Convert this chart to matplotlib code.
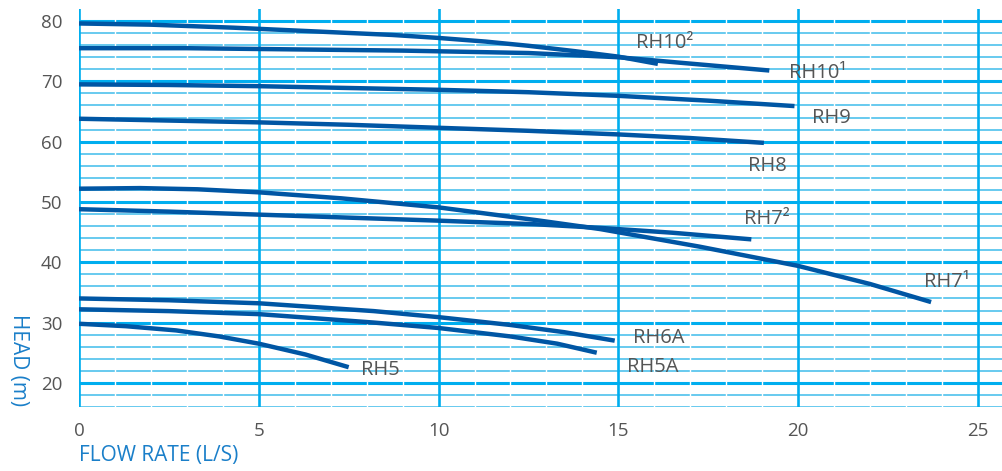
import numpy as np
import matplotlib.pyplot as plt

plt.rcParams['font.family'] = ['Open Sans', 'DejaVu Sans']

# pump curves: flow rate (L/s) vs head (m)
rh10_2_q = [0, 2, 4.3, 6.5, 8.7, 10, 11.3, 12.5, 13.8, 15, 16.1]
rh10_2_h = [79.6, 79.4, 78.9, 78.3, 77.7, 77.2, 76.6, 75.9, 75.0, 74.1, 72.9]
rh10_1_q = [0, 3, 6, 9, 12.5, 15, 16.7, 19.2]
rh10_1_h = [75.5, 75.5, 75.3, 75.1, 74.7, 74.0, 73.1, 71.8]
rh9_q = [0, 2.5, 5, 7.5, 10, 12.5, 15, 17.5, 19.9]
rh9_h = [69.5, 69.4, 69.2, 68.9, 68.6, 68.2, 67.6, 66.8, 65.9]
rh8_q = [0, 2.5, 5, 7.5, 10, 12.5, 15, 17, 19.05]
rh8_h = [63.8, 63.5, 63.2, 62.8, 62.3, 61.8, 61.2, 60.6, 59.8]
rh7_1_q = [0, 1.7, 3.3, 5, 7.3, 10, 12.7, 14.5, 17.25, 20, 22, 23.7]
rh7_1_h = [52.2, 52.3, 52.1, 51.6, 50.6, 49.1, 47.0, 45.5, 42.6, 39.4, 36.4, 33.4]
rh7_2_q = [0, 2.5, 5, 7.5, 10, 12.7, 14.5, 16.5, 18.7]
rh7_2_h = [48.8, 48.4, 47.9, 47.4, 46.9, 46.3, 45.7, 44.9, 43.8]
rh6a_q = [0, 2.5, 5, 8.2, 10, 12, 13.5, 14.9]
rh6a_h = [34.0, 33.7, 33.2, 31.9, 30.9, 29.6, 28.4, 27.0]
rh5a_q = [0, 2.5, 5, 8.2, 10, 12, 13.3, 14.4]
rh5a_h = [32.2, 31.9, 31.4, 30.0, 29.1, 27.7, 26.5, 25.0]
rh5_q = [0, 1.3, 2.7, 3.9, 5, 6.3, 7.5]
rh5_h = [29.8, 29.4, 28.7, 27.7, 26.5, 24.7, 22.6]

curves = [(rh10_2_q, rh10_2_h), (rh10_1_q, rh10_1_h), (rh9_q, rh9_h),
          (rh8_q, rh8_h), (rh7_1_q, rh7_1_h), (rh7_2_q, rh7_2_h),
          (rh6a_q, rh6a_h), (rh5a_q, rh5a_h), (rh5_q, rh5_h)]

labels = ['RH10²', 'RH10¹', 'RH9', 'RH8', 'RH7²', 'RH7¹', 'RH6A', 'RH5A', 'RH5']
label_q = [15.5, 19.75, 20.4, 18.6, 18.5, 23.5, 15.4, 15.25, 7.85]
label_h = [76.4, 71.4, 64.0, 56.0, 47.2, 36.7, 27.5, 22.7, 22.2]

x_ticks = [0, 5, 10, 15, 20, 25]
y_ticks = [20, 30, 40, 50, 60, 70, 80]

grid_blue = '#00aeef'
grid_light = '#5cc6ee'
curve_blue = '#0056a4'
text_grey = '#555555'
label_blue = '#1a7fc9'

fig = plt.figure(figsize=(10.03, 4.71), dpi=100)
ax = fig.add_axes([0.0788, 0.1359, 0.9212, 0.845])
ax.set_xlim(0, 25.7)
ax.set_ylim(16, 82)

# horizontal grid every 2 m, heavier every 10 m
for h in range(16, 82, 2):
    if h % 10 == 0:
        ax.axhline(h, color=grid_blue, lw=2.2, zorder=1)
    else:
        ax.axhline(h, color=grid_light, lw=1.3, zorder=1)

# white breaks at each 1 L/s
for q in range(1, 26):
    if q % 5 != 0:
        ax.axvline(q, color='white', lw=1.0, zorder=2)

for q in x_ticks:
    ax.axvline(q, color=grid_blue, lw=1.9, zorder=3)

for q, h in curves:
    ax.plot(q, h, color=curve_blue, lw=3.2, solid_capstyle='butt',
            solid_joinstyle='round', zorder=4)

for lab, q, h in zip(labels, label_q, label_h):
    ax.text(q, h, lab, color=text_grey, fontsize=14.5, ha='left', va='center', zorder=5)

for s in ax.spines.values():
    s.set_visible(False)
ax.set_xticks(x_ticks)
ax.set_yticks(y_ticks)
ax.tick_params(length=0, labelsize=13.5, colors=text_grey)
ax.tick_params(axis='y', pad=12)
ax.tick_params(axis='x', pad=11)

fig.text(0.079, 0.032, 'FLOW RATE (L/S)', color=label_blue, fontsize=15,
         ha='left', va='center')
fig.text(0.018, 0.236, 'HEAD (m)', color=label_blue, fontsize=15,
         rotation=270, ha='center', va='center')

fig.savefig('out.png', dpi=100)
